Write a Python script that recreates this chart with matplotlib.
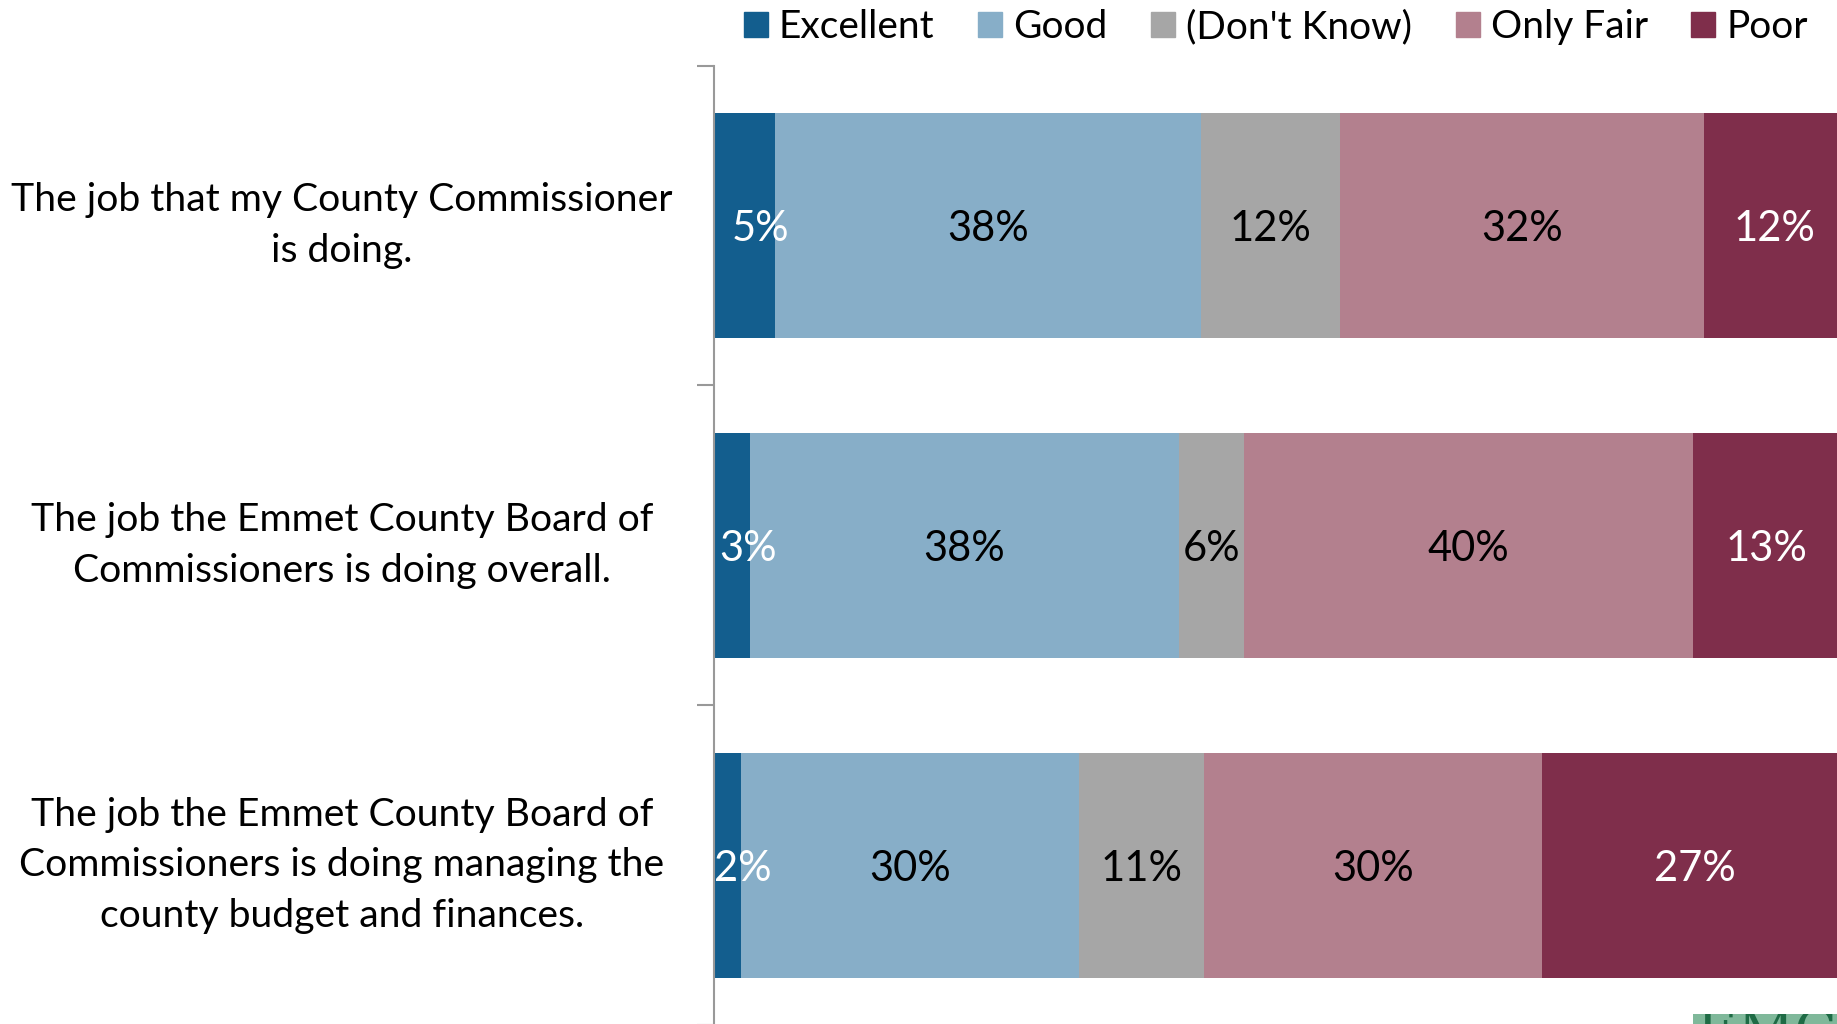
import matplotlib
matplotlib.use("Agg")
import matplotlib.pyplot as plt
from matplotlib.transforms import blended_transform_factory
from matplotlib.patches import Rectangle
import numpy as np

plt.rcParams['font.family'] = ['Lato', 'DejaVu Sans']

questions = [
    "The job that my County Commissioner\nis doing.",
    "The job the Emmet County Board of\nCommissioners is doing overall.",
    "The job the Emmet County Board of\nCommissioners is doing managing the\ncounty budget and finances.",
]
series = ["Excellent", "Good", "(Don't Know)", "Only Fair", "Poor"]
excellent = [5.4, 3.2, 2.4]
good = [37.5, 37.7, 29.7]
dont_know = [12.2, 5.7, 11.0]
only_fair = [32.0, 39.5, 29.7]
poor = [12.4, 13.0, 27.0]

values = [excellent, good, dont_know, only_fair, poor]
colors = ["#135E8E", "#87AEC8", "#A6A6A6", "#B3808E", "#7F2E4B"]
label_colors = ["white", "black", "black", "black", "white"]

W, H = 1837, 1024
fig = plt.figure(figsize=(W / 100, H / 100), dpi=100)
ax_left = 713.5 / W
ax_right = 1851 / W
ax_top = 1 - 65.6 / H
ax_bottom = 1 - 1025 / H
ax = fig.add_axes([ax_left, ax_bottom, ax_right - ax_left, ax_top - ax_bottom])

n = len(questions)
y = np.arange(n)
left = np.zeros(n)
for i, (name, vals) in enumerate(zip(series, values)):
    vals = np.array(vals, dtype=float)
    ax.barh(y, vals, left=left, height=0.703, color=colors[i], label=name, edgecolor='none')
    for j in range(n):
        cx = left[j] + vals[j] / 2
        if i == 0:
            cx = left[j] + vals[j] / 2 + 1.4
        ax.text(cx, y[j], f"{vals[j]:.0f}%", ha='center', va='center_baseline',
                fontsize=30, color=label_colors[i])
    left += vals

ax.set_xlim(0, 100)
ax.set_ylim(n - 0.5, -0.5)
ax.set_xticks([])
for s in ['top', 'right', 'bottom']:
    ax.spines[s].set_visible(False)
ax.spines['left'].set_color('#999999')
ax.spines['left'].set_linewidth(1.5)
ax.set_yticks(np.arange(n + 1) - 0.5)
ax.set_yticklabels([])
ax.tick_params(axis='y', length=12, width=1.5, color='#999999', direction='out')

trans = blended_transform_factory(ax.transAxes, ax.transData)
for j, q in enumerate(questions):
    ax.text(-0.3266, y[j], q, ha='center', va='center', fontsize=28.2,
            color='black', transform=trans, linespacing=1.5, clip_on=False)

handles = [Rectangle((0, 0), 1, 1, color=c) for c in colors]
leg = fig.legend(handles, series, loc='center left', bbox_to_anchor=(744 / W, 1 - 27 / H),
                 ncol=5, frameon=False, fontsize=28, handlelength=0.62, handleheight=0.62,
                 handletextpad=0.28, columnspacing=1.12, borderaxespad=0, borderpad=0)

# partial logo at bottom right
logo = Rectangle((1693 / W, 0), (W - 1693) / W, 10 / H, transform=fig.transFigure,
                 facecolor='#7FB89A', edgecolor='none')
fig.patches.append(logo)
t = fig.text(1697 / W, -38 / H, "EMC", fontsize=40, family='DejaVu Serif',
             color='#1E6B45', ha='left', va='bottom')
t.set_clip_path(logo)

fig.savefig("out.png", dpi=100)
